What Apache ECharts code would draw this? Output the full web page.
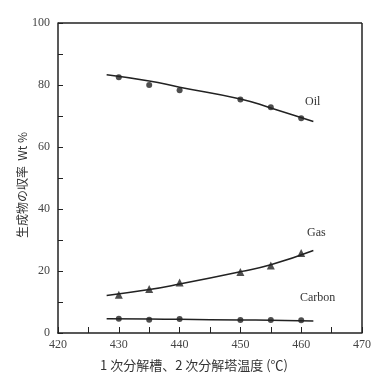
<!DOCTYPE html>
<html>
<head>
<meta charset="utf-8">
<script src="https://cdn.jsdelivr.net/npm/echarts@6/dist/echarts.min.js"></script>
<style>
  html, body { margin: 0; padding: 0; background: #fff; }
  #chart01 { width: 384px; height: 378px; }
</style>
</head>
<body>
<div id="chart01"></div>
<script>
// 温度 (℃)
var temps = [430, 435, 440, 450, 455, 460];
// 測定点
var oilPts = [82.5, 80, 78.3, 75.3, 72.8, 69.3];
var gasPts = [12.3, 14.2, 16.3, 19.7, 21.8, 25.8];
var carbonPts = [4.6, 4.3, 4.5, 4.2, 4.2, 4.1];
// 近似曲線
var fitTemps = [428, 435, 440, 450, 455, 462];
var oilFit = [83.3, 81.3, 79.3, 75.5, 72.6, 68.2];
var gasFit = [12.1, 14.0, 15.8, 19.8, 22.0, 26.6];
var carbonFit = [4.6, 4.5, 4.4, 4.2, 4.1, 3.9];

var xTicks = [420, 430, 440, 450, 460, 470];
var yTicks = [0, 20, 40, 60, 80, 100];

function pairs(xs, ys) {
  return xs.map(function (x, i) { return [x, ys[i]]; });
}

var ink = '#222';
var chart01 = echarts.init(document.getElementById('chart01'));
var option = {
  backgroundColor: '#fff',
  animation: false,
  textStyle: { fontFamily: 'Liberation Serif' },
  grid: { left: 58, right: 22, top: 23, bottom: 45 },
  // x轴
  xAxis: {
    type: 'value',
    min: xTicks[0],
    max: xTicks[xTicks.length - 1],
    interval: 10,
    axisLine: { show: true, onZero: false, lineStyle: { color: ink, width: 1.5 } },
    axisTick: { show: true, inside: true, length: 6, lineStyle: { color: ink } },
    minorTick: { show: true, splitNumber: 2, length: 6, lineStyle: { color: ink } },
    splitLine: { show: false },
    axisLabel: { color: '#444', fontSize: 12, margin: 6 }
  },
  // y轴
  yAxis: {
    type: 'value',
    min: yTicks[0],
    max: yTicks[yTicks.length - 1],
    interval: 20,
    axisLine: { show: true, lineStyle: { color: ink, width: 1.5 } },
    axisTick: { show: true, inside: true, length: 5, lineStyle: { color: ink } },
    minorTick: { show: true, splitNumber: 2, length: 5, lineStyle: { color: ink } },
    splitLine: { show: false },
    axisLabel: { color: '#444', fontSize: 12, margin: 8 }
  },
  graphic: [
    // 枠
    { type: 'line', shape: { x1: 58, y1: 23, x2: 362, y2: 23 }, style: { stroke: ink, lineWidth: 1.5 } },
    { type: 'line', shape: { x1: 362, y1: 23, x2: 362, y2: 333 }, style: { stroke: ink, lineWidth: 1.5 } },
    { type: 'text', left: 305, top: 96, style: { text: 'Oil', fill: '#333', font: '12px "Liberation Serif"' } },
    { type: 'text', left: 307, top: 227, style: { text: 'Gas', fill: '#333', font: '12px "Liberation Serif"' } },
    { type: 'text', left: 300, top: 292, style: { text: 'Carbon', fill: '#333', font: '12px "Liberation Serif"' } },
    {
      type: 'text', x: 22, y: 185, rotation: Math.PI / 2,
      style: { text: '生成物の収率  Wt %', fill: '#333', font: '12px "Noto Sans CJK JP"', textAlign: 'center', textVerticalAlign: 'middle' }
    },
    {
      type: 'text', left: 100, top: 359,
      style: { text: '1 次分解槽、2 次分解塔温度 (℃)', fill: '#333', font: '13px "Noto Sans CJK JP"' }
    }
  ],
  // 数据
  series: [
    { name: 'Oil fit', type: 'line', smooth: true, symbol: 'none', data: pairs(fitTemps, oilFit), lineStyle: { color: ink, width: 1.5 } },
    { name: 'Gas fit', type: 'line', smooth: true, symbol: 'none', data: pairs(fitTemps, gasFit), lineStyle: { color: ink, width: 1.5 } },
    { name: 'Carbon fit', type: 'line', smooth: true, symbol: 'none', data: pairs(fitTemps, carbonFit), lineStyle: { color: ink, width: 1.5 } },
    { name: 'Oil', type: 'scatter', symbol: 'circle', symbolSize: 6, data: pairs(temps, oilPts), itemStyle: { color: ink } },
    { name: 'Gas', type: 'scatter', symbol: 'triangle', symbolSize: 8, data: pairs(temps, gasPts), itemStyle: { color: ink } },
    { name: 'Carbon', type: 'scatter', symbol: 'circle', symbolSize: 6, data: pairs(temps, carbonPts), itemStyle: { color: ink } }
  ]
};
chart01.setOption(option);

window.addEventListener('resize', function () {
  chart01.resize();
});
</script>
</body>
</html>
